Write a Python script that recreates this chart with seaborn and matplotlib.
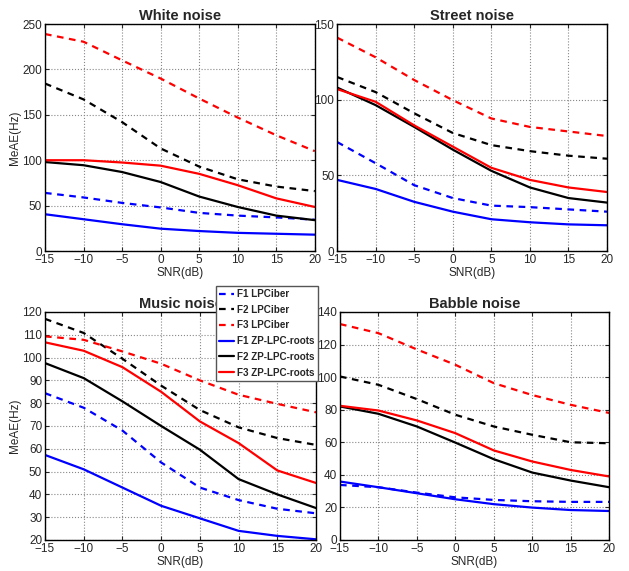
"""Formant error vs SNR for four noise types."""

import matplotlib.pyplot as plt
import numpy as np
import pandas as pd
import seaborn as sns

snr = [-15, -10, -5, 0, 5, 10, 15, 20]

series_names = [
    "F1 LPCiber", "F2 LPCiber", "F3 LPCiber",
    "F1 ZP-LPC-roots", "F2 ZP-LPC-roots", "F3 ZP-LPC-roots",
]
series_colors = ["#0000ff", "#000000", "#ff0000", "#0000ff", "#000000", "#ff0000"]
series_dashed = [True, True, True, False, False, False]

white_noise = [
    [64, 59, 53, 48, 42, 39, 37, 34.5],
    [184.5, 167, 142, 113, 93, 79, 71, 66],
    [239, 230.5, 210, 190, 168, 147, 127.5, 110],
    [40.5, 35, 29.5, 24.6, 22, 20, 19, 18],
    [98, 94.5, 87, 76, 60, 48.5, 39, 34],
    [100, 100, 97.5, 94, 85, 72.5, 58, 48.5],
]
street_noise = [
    [72, 58, 43.5, 35, 30, 29, 27.5, 26],
    [115, 105, 91, 78, 70, 66, 63, 61],
    [141, 128, 113, 99.7, 87.6, 82, 79, 76],
    [47, 41, 32.5, 26, 21, 19, 17.6, 17],
    [108, 96.4, 82, 67, 53, 42, 35, 32],
    [107, 98.6, 83, 69, 55, 47, 42, 39],
]
music_noise = [
    [84.4, 78, 68, 54, 43, 37.5, 33.7, 31.7],
    [117, 110.8, 99.5, 87.7, 77, 69.4, 64.7, 61.7],
    [109.3, 107.8, 102.7, 97.3, 90, 83.7, 79.7, 76],
    [57.3, 51, 43, 35, 29.5, 24, 21.8, 20.3],
    [97.6, 91, 80.8, 70, 59.6, 46.7, 40, 34],
    [106.7, 103, 95.8, 85, 72, 62.5, 50.5, 45],
]
babble_noise = [
    [33.8, 32.4, 29.1, 26.2, 24.6, 23.8, 23.4, 23.4],
    [100.4, 95.3, 86.5, 76.9, 69.7, 64.6, 60, 59.4],
    [132.6, 127, 117, 107.6, 96.3, 89, 83, 78],
    [35.9, 32.4, 28.7, 25, 22, 19.9, 18.4, 17.8],
    [82, 77.5, 69.7, 59.8, 49.6, 41.4, 36.5, 32.4],
    [82.4, 79.5, 73.4, 65.6, 55, 48.2, 43, 39],
]

panels = [
    ("White noise", white_noise, (0, 250), np.arange(0, 251, 50)),
    ("Street noise", street_noise, (0, 150), np.arange(0, 151, 50)),
    ("Music noise", music_noise, (20, 120), np.arange(20, 121, 10)),
    ("Babble noise", babble_noise, (0, 140), np.arange(0, 141, 20)),
]

# axes rectangles in figure fractions (left, bottom, width, height)
axes_rects = [
    (0.0715, 0.5604, 0.429, 0.3975),
    (0.536, 0.5604, 0.429, 0.3975),
    (0.0715, 0.0543, 0.431, 0.3993),
    (0.5405, 0.0543, 0.428, 0.3993),
]

sns.set_style("white")
plt.rcParams["font.family"] = ["Liberation Sans", "DejaVu Sans"]
plt.rcParams["font.size"] = 8.5

fig = plt.figure(figsize=(6.29, 5.71), dpi=100)

for i, ((title, values, ylim, yticks), rect) in enumerate(zip(panels, axes_rects)):
    ax = fig.add_axes(rect)
    for name, vals, color, dashed in zip(series_names, values, series_colors, series_dashed):
        df = pd.DataFrame({"snr": snr, "err": vals})
        sns.lineplot(
            data=df, x="snr", y="err", ax=ax, color=color, label=name,
            linewidth=1.6, linestyle="--" if dashed else "-",
            dashes=False,
        )
        if dashed:
            ax.lines[-1].set_dashes((3, 2.5))
    ax.set_xlim(-15, 20)
    ax.set_ylim(*ylim)
    ax.set_xticks(snr)
    ax.set_yticks(yticks)
    ax.set_xticklabels([str(s).replace("-", "\u2212") for s in snr])
    ax.tick_params(direction="in", length=3, labelsize=8.5, pad=2,
                   top=True, right=True, bottom=True, left=True)
    ax.grid(True, linestyle=":", color="#888888", linewidth=0.8)
    for sp in ax.spines.values():
        sp.set_color("black")
        sp.set_linewidth(1.0)
    ax.set_title(title, fontweight="bold", fontsize=10.5, pad=3)
    ax.set_xlabel("SNR(dB)", fontsize=8.5, labelpad=1)
    ax.set_ylabel("MeAE(Hz)" if i % 2 == 0 else "", fontsize=8.5, labelpad=1)
    handles, labels = ax.get_legend_handles_labels()
    ax.get_legend().remove()

fig.legend(
    handles, labels, loc="upper left", bbox_to_anchor=(0.343, 0.500),
    prop={"weight": "bold", "size": 7.1}, handlelength=1.5, handletextpad=0.3,
    labelspacing=0.58, borderpad=0.35, borderaxespad=0, fancybox=False,
    edgecolor="#555555", framealpha=1,
)

fig.savefig("out.png", dpi=100)
